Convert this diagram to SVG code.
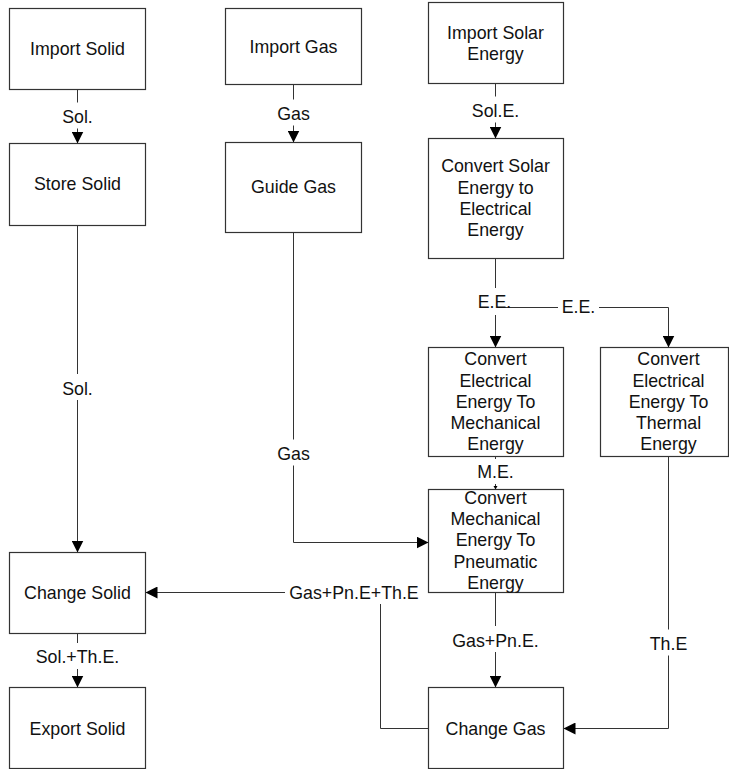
<svg xmlns="http://www.w3.org/2000/svg" width="729" height="769" viewBox="0 0 729 769">
<style>
.box{fill:#fff;stroke:#333;stroke-width:1.2}
.t{font-family:"Liberation Sans",Arial,sans-serif;font-size:17.8px;fill:#111;text-anchor:middle}
.c{fill:none;stroke:#333;stroke-width:1}
.bg{fill:#fff;stroke:none}
</style>
<defs>
<marker id="ah" viewBox="0 0 12 12" refX="12" refY="6" markerWidth="12" markerHeight="12" markerUnits="userSpaceOnUse" orient="auto">
<path d="M0,0 L12,6 L0,12 z" fill="#000"/>
</marker>
</defs>
<rect width="729" height="769" fill="#fff"/>
<g id="connectors">
<g id="c-a"><path class="c" d="M77.5,89.5 V143.5" marker-end="url(#ah)"/><rect class="bg" x="58" y="102.5" width="39" height="26"/><text class="t" x="77.5" y="123">Sol.</text></g>
<g id="c-b"><path class="c" d="M293.5,84.5 V142.5" marker-end="url(#ah)"/><rect class="bg" x="273" y="99.5" width="41" height="26"/><text class="t" x="293.5" y="119.5">Gas</text></g>
<g id="c-c"><path class="c" d="M495.5,83.5 V138.5" marker-end="url(#ah)"/><rect class="bg" x="468" y="96.5" width="56" height="26"/><text class="t" x="495.5" y="117">Sol.E.</text></g>
<g id="c-d"><path class="c" d="M495.5,258.5 V347.5" marker-end="url(#ah)"/></g>
<g id="c-e"><path class="c" d="M495.5,258.5 V307.5 H668.5 V347.5" marker-end="url(#ah)"/><rect class="bg" x="476" y="288" width="27" height="27"/><text class="t" x="494.5" y="308">E.E.</text><rect class="bg" x="558" y="292" width="41" height="26"/><text class="t" x="578.5" y="312.5">E.E.</text></g>
<g id="c-f"><path class="c" d="M495.5,456.5 V486"/><path d="M493.5,486 L497.5,486 L495.5,489.5 z" fill="#000"/><rect class="bg" x="476" y="459" width="40" height="25"/><text class="t" x="495.5" y="478">M.E.</text></g>
<g id="c-g"><path class="c" d="M293.5,232.5 V542.5 H428.5" marker-end="url(#ah)"/><rect class="bg" x="273" y="439.5" width="41" height="26"/><text class="t" x="293.5" y="459.5">Gas</text></g>
<g id="c-h"><path class="c" d="M77.5,225.5 V552.5" marker-end="url(#ah)"/><rect class="bg" x="58" y="374" width="39" height="26"/><text class="t" x="77.5" y="394.5">Sol.</text></g>
<g id="c-i"><path class="c" d="M495.5,592.5 V687.5" marker-end="url(#ah)"/><rect class="bg" x="450" y="626" width="92" height="26"/><text class="t" x="495.5" y="646.5">Gas+Pn.E.</text></g>
<g id="c-j"><path class="c" d="M668.5,456.5 V728.5 H563.5" marker-end="url(#ah)"/><rect class="bg" x="647" y="629.5" width="43" height="26"/><text class="t" x="668.5" y="649.5">Th.E</text></g>
<g id="c-k"><path class="c" d="M428.5,728.5 H380.5 V592.5 H145.5" marker-end="url(#ah)"/><rect class="bg" x="285" y="579" width="138" height="25"/><text class="t" x="354" y="598.5">Gas+Pn.E+Th.E</text></g>
<g id="c-l"><path class="c" d="M77.5,633.5 V687.5" marker-end="url(#ah)"/><rect class="bg" x="33" y="643" width="89" height="26"/><text class="t" x="77.5" y="663">Sol.+Th.E.</text></g>
</g>
<g id="import-solid"><rect class="box" x="9.5" y="8.5" width="136" height="81"/><text class="t" x="77.5" y="54.5">Import Solid</text></g>
<g id="store-solid"><rect class="box" x="9.5" y="143.5" width="136" height="82"/><text class="t" x="77.5" y="189.5">Store Solid</text></g>
<g id="import-gas"><rect class="box" x="225.5" y="8.5" width="136" height="76"/><text class="t" x="293.5" y="52.5">Import Gas</text></g>
<g id="guide-gas"><rect class="box" x="225.5" y="142.5" width="136" height="90"/><text class="t" x="293.5" y="192.5">Guide Gas</text></g>
<g id="import-solar"><rect class="box" x="428.5" y="2.5" width="135" height="81"/><text class="t" x="495.5" y="38.5">Import Solar</text><text class="t" x="495.5" y="59.8">Energy</text></g>
<g id="convert-solar"><rect class="box" x="428.5" y="138.5" width="135" height="120"/><text class="t" x="495.5" y="172.3">Convert Solar</text><text class="t" x="495.5" y="193.6">Energy to</text><text class="t" x="495.5" y="214.9">Electrical</text><text class="t" x="495.5" y="236.2">Energy</text></g>
<g id="convert-elec-mech"><rect class="box" x="428.5" y="347.5" width="135" height="109"/><text class="t" x="495.5" y="365.2">Convert</text><text class="t" x="495.5" y="386.5">Electrical</text><text class="t" x="495.5" y="407.8">Energy To</text><text class="t" x="495.5" y="429.1">Mechanical</text><text class="t" x="495.5" y="450.4">Energy</text></g>
<g id="convert-elec-thermal"><rect class="box" x="600.5" y="347.5" width="128" height="109"/><text class="t" x="668.5" y="365.2">Convert</text><text class="t" x="668.5" y="386.5">Electrical</text><text class="t" x="668.5" y="407.8">Energy To</text><text class="t" x="668.5" y="429.1">Thermal</text><text class="t" x="668.5" y="450.4">Energy</text></g>
<g id="convert-mech-pneu"><rect class="box" x="428.5" y="489.5" width="135" height="103"/><text class="t" x="495.5" y="503.7">Convert</text><text class="t" x="495.5" y="525">Mechanical</text><text class="t" x="495.5" y="546.3">Energy To</text><text class="t" x="495.5" y="567.6">Pneumatic</text><text class="t" x="495.5" y="588.9">Energy</text></g>
<g id="change-solid"><rect class="box" x="9.5" y="552.5" width="136" height="81"/><text class="t" x="77.5" y="598.5">Change Solid</text></g>
<g id="export-solid"><rect class="box" x="9.5" y="687.5" width="136" height="81"/><text class="t" x="77.5" y="734.5">Export Solid</text></g>
<g id="change-gas"><rect class="box" x="428.5" y="687.5" width="135" height="81"/><text class="t" x="495.5" y="734.5">Change Gas</text></g>
</svg>
